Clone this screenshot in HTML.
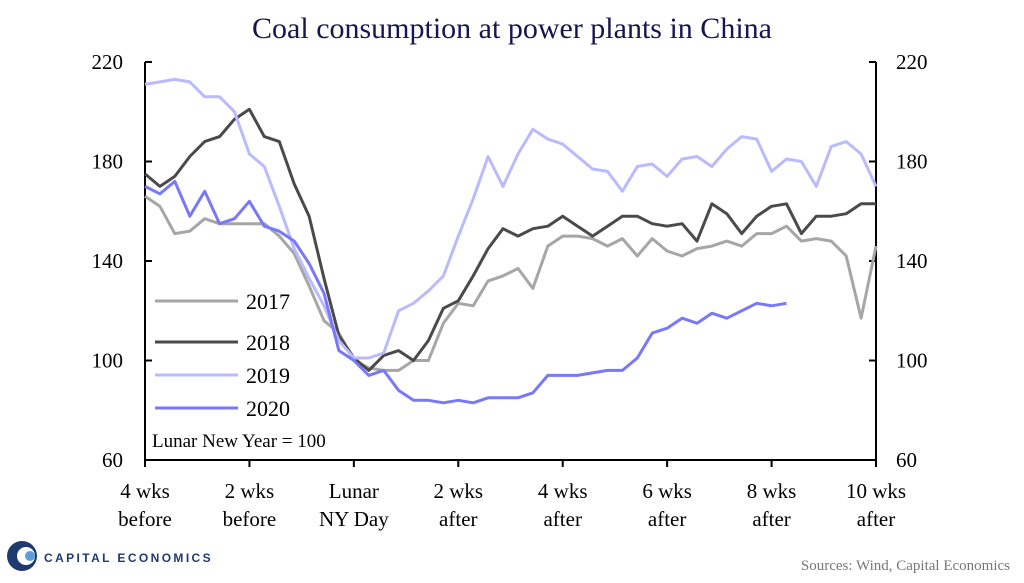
<!DOCTYPE html>
<html><head><meta charset="utf-8"><style>
body{margin:0;background:#fff;}
svg{display:block;font-family:"Liberation Serif",serif;}
</style></head><body>
<svg id="chart" width="1024" height="583" viewBox="0 0 1024 583" xmlns="http://www.w3.org/2000/svg">
<text x="512" y="38" text-anchor="middle" font-size="30" fill="#15154f">Coal consumption at power plants in China</text>
<g id="plot"></g>
<g>
<circle cx="22" cy="556" r="15" fill="#1f3a6e"/>
<circle cx="26" cy="556" r="9" fill="#fff"/>
<circle cx="30" cy="556" r="5" fill="#5aa0d8"/>
<text x="44" y="562" font-family="Liberation Sans,sans-serif" font-size="12" font-weight="bold" letter-spacing="2.4" fill="#1f3a6e">CAPITAL ECONOMICS</text>
</g>
<text x="1010" y="570" text-anchor="end" font-size="15" fill="#777">Sources: Wind, Capital Economics</text>
</svg>
<script>
const yTicks=[60,100,140,180,220];
const xTickDays=[-28,-14,0,14,28,42,56,70];
const xTickLine1=["4 wks","2 wks","Lunar","2 wks","4 wks","6 wks","8 wks","10 wks"];
const xTickLine2=["before","before","NY Day","after","after","after","after","after"];
const seriesNames=["2017","2018","2019","2020"];
const startDay=-28, stepDays=2;
const v2017=[166,162,151,152,157,155,155,155,155,150,143,130,116,111,100,97,96,96,100,100,115,123,122,132,134,137,129,146,150,150,149,146,149,142,149,144,142,145,146,148,146,151,151,154,148,149,148,142,117,146];
const v2018=[175,170,174,182,188,190,197,201,190,188,171,158,133,110,101,96,102,104,100,108,121,124,134,145,153,150,153,154,158,154,150,154,158,158,155,154,155,148,163,159,151,158,162,163,151,158,158,159,163,163];
const v2019=[211,212,213,212,206,206,200,183,178,162,145,133,122,108,101,101,103,120,123,128,134,150,165,182,170,183,193,189,187,182,177,176,168,178,179,174,181,182,178,185,190,189,176,181,180,170,186,188,183,170];
const v2020=[170,167,172,158,168,155,157,164,154,152,148,139,127,104,100,94,96,88,84,84,83,84,83,85,85,85,87,94,94,94,95,96,96,101,111,113,117,115,119,117,120,123,122,123];
const allSeries=[v2017,v2018,v2019,v2020];
const colors=["#a6a6a6","#4a4a4a","#babaff","#7878fa"];
const L=145,R=876,T=62,B=460;
const xS=d=>L+(d+28)/98*(R-L);
const yS=v=>B-(v-60)/160*(B-T);
const NS="http://www.w3.org/2000/svg";
const g=document.getElementById('plot');
function mk(t,a){const e=document.createElementNS(NS,t);for(const k in a)e.setAttribute(k,a[k]);g.appendChild(e);return e;}
let e;
e=mk('line',{x1:L,y1:T,x2:L,y2:B,stroke:'#000','stroke-width':2});


e=mk('line',{x1:R,y1:T,x2:R,y2:B,stroke:'#000','stroke-width':2});


e=mk('line',{x1:L,y1:B,x2:R,y2:B,stroke:'#000','stroke-width':2});


yTicks.forEach(v=>{
 const y=yS(v);
 e=mk('line',{x1:L,y1:y,x2:L+7,y2:y,stroke:'#000','stroke-width':2});
 
 
 e=mk('line',{x1:R-7,y1:y,x2:R,y2:y,stroke:'#000','stroke-width':2});
 
 
 e=mk('text',{x:L-22,y:y+7,'text-anchor':'end','font-size':21});
 e.textContent=v;
 
 
 e=mk('text',{x:R+20,y:y+7,'text-anchor':'start','font-size':21});
 e.textContent=v;
 
 
});
xTickDays.forEach((d,i)=>{
 const x=xS(d);
 e=mk('line',{x1:x,y1:B,x2:x,y2:B+7,stroke:'#000','stroke-width':2});
 
 
 e=mk('text',{x:x,y:B+38,'text-anchor':'middle','font-size':21});
 e.textContent=xTickLine1[i];
 
 
 e=mk('text',{x:x,y:B+66,'text-anchor':'middle','font-size':21});
 e.textContent=xTickLine2[i];
 
 
});
allSeries.forEach((vals,si)=>{
 const pts=vals.map((v,i)=>xS(startDay+i*stepDays).toFixed(1)+','+yS(v).toFixed(1)).join(' ');
 e=mk('polyline',{points:pts,fill:'none',stroke:colors[si],'stroke-width':3,'stroke-linejoin':'round'});
 
 
});
const legY=[301,342,375,408];
seriesNames.forEach((n,i)=>{
 e=mk('line',{x1:155,y1:legY[i],x2:238,y2:legY[i],stroke:colors[i],'stroke-width':3});
 
 
 e=mk('text',{x:246,y:legY[i]+8,'font-size':22});
 e.textContent=n;
 
 
});
e=mk('text',{x:152,y:447,'font-size':19});
e.textContent='Lunar  New Year = 100';


</script>
</body></html>
